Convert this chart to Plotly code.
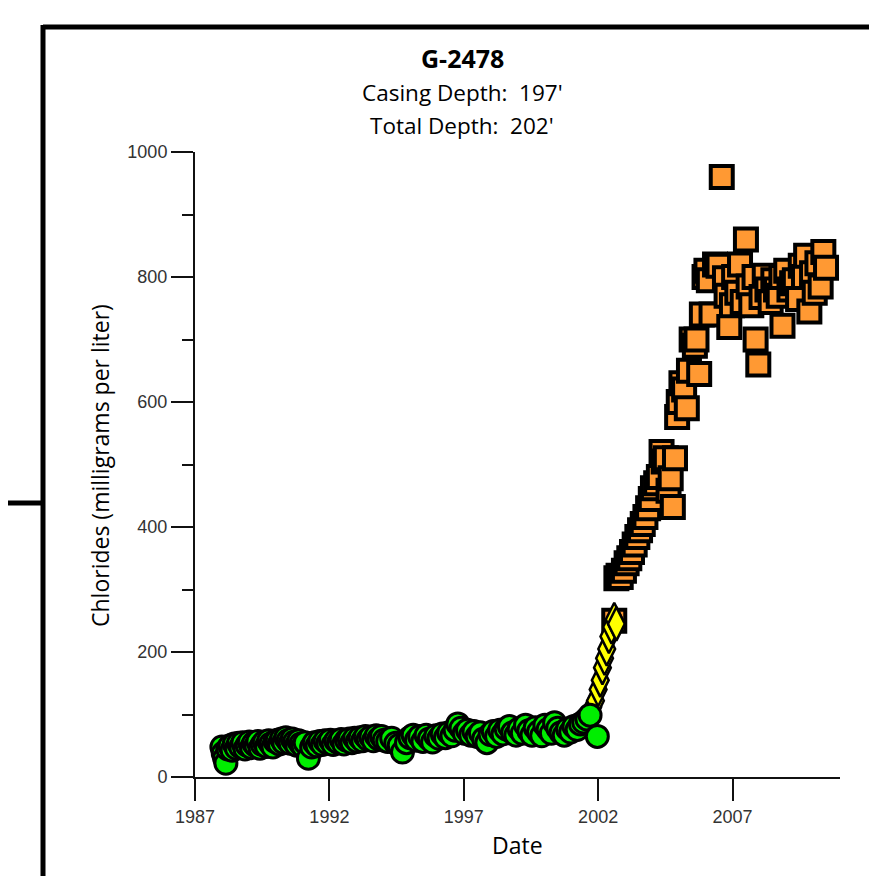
import plotly.graph_objects as go

# ---------------- data (decimal years, chloride mg/L) ----------------
green_year = [1988.00, 1988.05, 1988.10, 1988.15, 1988.22, 1988.30, 1988.38, 1988.46, 1988.54, 1988.62,
              1988.70, 1988.78, 1988.86, 1988.94, 1989.02, 1989.10, 1989.18, 1989.26, 1989.34, 1989.42,
              1989.50, 1989.58, 1989.66, 1989.74, 1989.82, 1989.90, 1989.98, 1990.06, 1990.14, 1990.22,
              1990.30, 1990.38, 1990.46, 1990.54, 1990.62, 1990.70, 1990.78, 1990.86, 1990.94, 1991.02,
              1991.10, 1991.22, 1991.34, 1991.44, 1991.54, 1991.64, 1991.74, 1991.84, 1991.94, 1992.04,
              1992.14, 1992.24, 1992.34, 1992.44, 1992.54, 1992.64, 1992.74, 1992.84, 1992.94, 1993.04,
              1993.14, 1993.24, 1993.34, 1993.44, 1993.54, 1993.64, 1993.74, 1993.84, 1993.94, 1994.04,
              1994.17, 1994.32, 1994.47, 1994.60, 1994.72, 1994.87, 1995.00, 1995.12, 1995.24, 1995.36,
              1995.48, 1995.60, 1995.72, 1995.84, 1995.96, 1996.08, 1996.20, 1996.32, 1996.44, 1996.56,
              1996.68, 1996.78, 1996.90, 1997.02, 1997.14, 1997.26, 1997.38, 1997.50, 1997.62, 1997.74,
              1997.86, 1997.98, 1998.10, 1998.22, 1998.34, 1998.46, 1998.58, 1998.70, 1998.82, 1998.94,
              1999.06, 1999.18, 1999.30, 1999.42, 1999.54, 1999.66, 1999.78, 1999.90, 2000.02, 2000.14,
              2000.26, 2000.38, 2000.50, 2000.62, 2000.74, 2000.86, 2000.98, 2001.10, 2001.22, 2001.34,
              2001.46, 2001.58, 2001.70, 2001.97]
green_val = [48, 38, 30, 22, 45, 50, 43, 53, 46, 54,
             48, 55, 45, 51, 56, 47, 54, 50, 57, 46,
             52, 56, 49, 58, 53, 48, 57, 59, 53, 61,
             55, 63, 58, 54, 61, 56, 51, 58, 53, 49,
             55, 30, 48, 55, 50, 57, 52, 58, 54, 59,
             52, 58, 55, 60, 53, 59, 61, 55, 62, 57,
             63, 58, 65, 60, 64, 58, 66, 61, 65, 59,
             57, 62, 54, 51, 40, 55, 63, 67, 59, 65,
             57, 67, 61, 56, 66, 62, 69, 63, 71, 66,
             75, 85, 78, 70, 75, 67, 73, 65, 71, 61,
             55, 68, 73, 65, 75, 69, 77, 81, 71, 67,
             77, 70, 83, 74, 67, 79, 72, 66, 83, 76,
             70, 87, 78, 71, 67, 77, 72, 81, 76, 85,
             88, 93, 99, 65]

yellow_year = [2001.60, 2001.70, 2001.80, 2001.90, 2002.00, 2002.08, 2002.16, 2002.24, 2002.32, 2002.40,
               2002.50, 2002.60, 2002.68]
yellow_val = [88, 100, 112, 122, 140, 155, 175, 190, 205, 225, 240, 252, 245]

orange_year = [2002.60, 2002.68, 2002.76, 2002.84, 2002.96, 2003.06, 2003.16, 2003.26, 2003.36, 2003.46,
               2003.56, 2003.66, 2003.76, 2003.86, 2003.96, 2004.04, 2004.16, 2004.26, 2004.36, 2004.44,
               2004.52, 2004.62, 2004.70, 2004.78, 2004.86, 2004.94, 2005.00, 2005.10, 2005.20, 2005.30,
               2005.38, 2005.48, 2005.60, 2005.66, 2005.76, 2005.86, 2005.96, 2006.03, 2006.12, 2006.22,
               2006.35, 2006.48, 2006.60, 2006.72, 2006.78, 2006.88, 2006.98, 2007.06, 2007.18, 2007.28,
               2007.38, 2007.50, 2007.60, 2007.70, 2007.82, 2007.86, 2007.96, 2008.08, 2008.20, 2008.30,
               2008.42, 2008.52, 2008.62, 2008.72, 2008.82, 2008.86, 2009.00, 2009.12, 2009.22, 2009.32,
               2009.44, 2009.54, 2009.66, 2009.74, 2009.86, 2009.96, 2010.06, 2010.16, 2010.28, 2010.38,
               2010.48]
orange_val = [250, 318, 322, 320, 330, 342, 350, 360, 372, 384,
              395, 405, 416, 430, 445, 462, 470, 480, 520, 505,
              510, 458, 478, 432, 510, 576, 600, 630, 620, 590,
              650, 700, 690, 700, 645, 740, 800, 810, 795, 740,
              820, 818, 960, 798, 770, 720, 755, 800, 775, 820,
              760, 860, 785, 755, 800, 700, 660, 768, 802, 780,
              760, 795, 780, 770, 800, 722, 810, 780, 790, 795,
              765, 818, 800, 834, 745, 806, 775, 822, 785, 840,
              815]

x_ticks = [1987, 1992, 1997, 2002, 2007]
y_ticks = [0, 200, 400, 600, 800, 1000]
y_minor = [100, 300, 500, 700, 900]

title_main = "G-2478"
title_sub1 = "Casing Depth:  197'"
title_sub2 = "Total Depth:  202'"
x_title = "Date"
y_title = "Chlorides (milligrams per liter)"

# ---------------- layout geometry (screen pixels; page body has an 8px margin) ----------------
OFF = 8
W, H = 877 - OFF, 876 - OFF
L, R, T, B = 195 - OFF, 840 - OFF, 152 - OFF, 777 - OFF
PW, PH = R - L, B - T


def px(x):
    return (x - OFF - L) / PW


def py(y):
    return (B - (y - OFF)) / PH


TEXT_FONT = "'Open Sans', Lato, sans-serif"
TICK_FONT = "'Liberation Sans', Arial, sans-serif"

fig = go.Figure()

fig.add_trace(go.Scatter(
    x=orange_year, y=orange_val, mode="markers",
    marker=dict(symbol="square", size=22, color="#FF9933",
                line=dict(color="black", width=4)),
    hoverinfo="x+y", showlegend=False))

fig.add_trace(go.Scatter(
    x=yellow_year, y=yellow_val, mode="markers",
    marker=dict(symbol="diamond-tall", size=24, color="#FFFF00",
                line=dict(color="black", width=2.5)),
    hoverinfo="x+y", showlegend=False))

fig.add_trace(go.Scatter(
    x=green_year, y=green_val, mode="markers",
    marker=dict(symbol="circle", size=22, color="#00EE00",
                line=dict(color="black", width=3)),
    hoverinfo="x+y", showlegend=False))

fig.update_layout(
    width=W, height=H,
    margin=dict(l=L, r=W - R, t=T, b=H - B, pad=0),
    paper_bgcolor="white", plot_bgcolor="white",
    showlegend=False,
    xaxis=dict(range=[1987, 2011], tickvals=x_ticks, ticktext=[str(v) for v in x_ticks],
               showgrid=False, zeroline=False, showline=True, linecolor="#111", linewidth=2,
               ticks="outside", ticklen=22, tickwidth=2, tickcolor="#111",
               tickfont=dict(family=TICK_FONT, size=18, color="#333")),
    yaxis=dict(range=[0, 1000], tickvals=y_ticks, ticktext=[str(v) for v in y_ticks],
               showgrid=False, zeroline=False, showline=True, linecolor="#111", linewidth=2,
               ticks="outside", ticklen=22, tickwidth=2, tickcolor="#111",
               tickfont=dict(family=TICK_FONT, size=18, color="#333"),
               minor=dict(tickvals=y_minor, ticks="outside", ticklen=11,
                          tickwidth=2, tickcolor="#111")),
)

annotations = [
    dict(text="<b>" + title_main + "</b>", x=px(462), y=py(58), size=25),
    dict(text=title_sub1, x=px(462), y=py(93), size=22.5),
    dict(text=title_sub2, x=px(462), y=py(126), size=22.5),
    dict(text=x_title, x=px(517), y=py(845), size=23),
]
for a in annotations:
    fig.add_annotation(text=a["text"], x=a["x"], y=a["y"], xref="paper", yref="paper",
                       xanchor="center", yanchor="middle", showarrow=False,
                       font=dict(family=TEXT_FONT, size=a["size"], color="black"))

fig.add_annotation(text=y_title, x=px(100), y=py(465),
                   xref="paper", yref="paper", xanchor="center", yanchor="middle",
                   textangle=-90, showarrow=False,
                   font=dict(family=TEXT_FONT, size=23, color="black"))

# frame decoration lines (screen pixel coordinates)
frame = [
    (43, 27, 900, 27),
    (43, 25, 43, 900),
    (-5, 503, 43, 503),
]
for x0, y0, x1, y1 in frame:
    fig.add_shape(type="line", xref="paper", yref="paper",
                  x0=px(x0), y0=py(y0), x1=px(x1), y1=py(y1),
                  line=dict(color="black", width=5), layer="above")

fig.write_html("out.html")
